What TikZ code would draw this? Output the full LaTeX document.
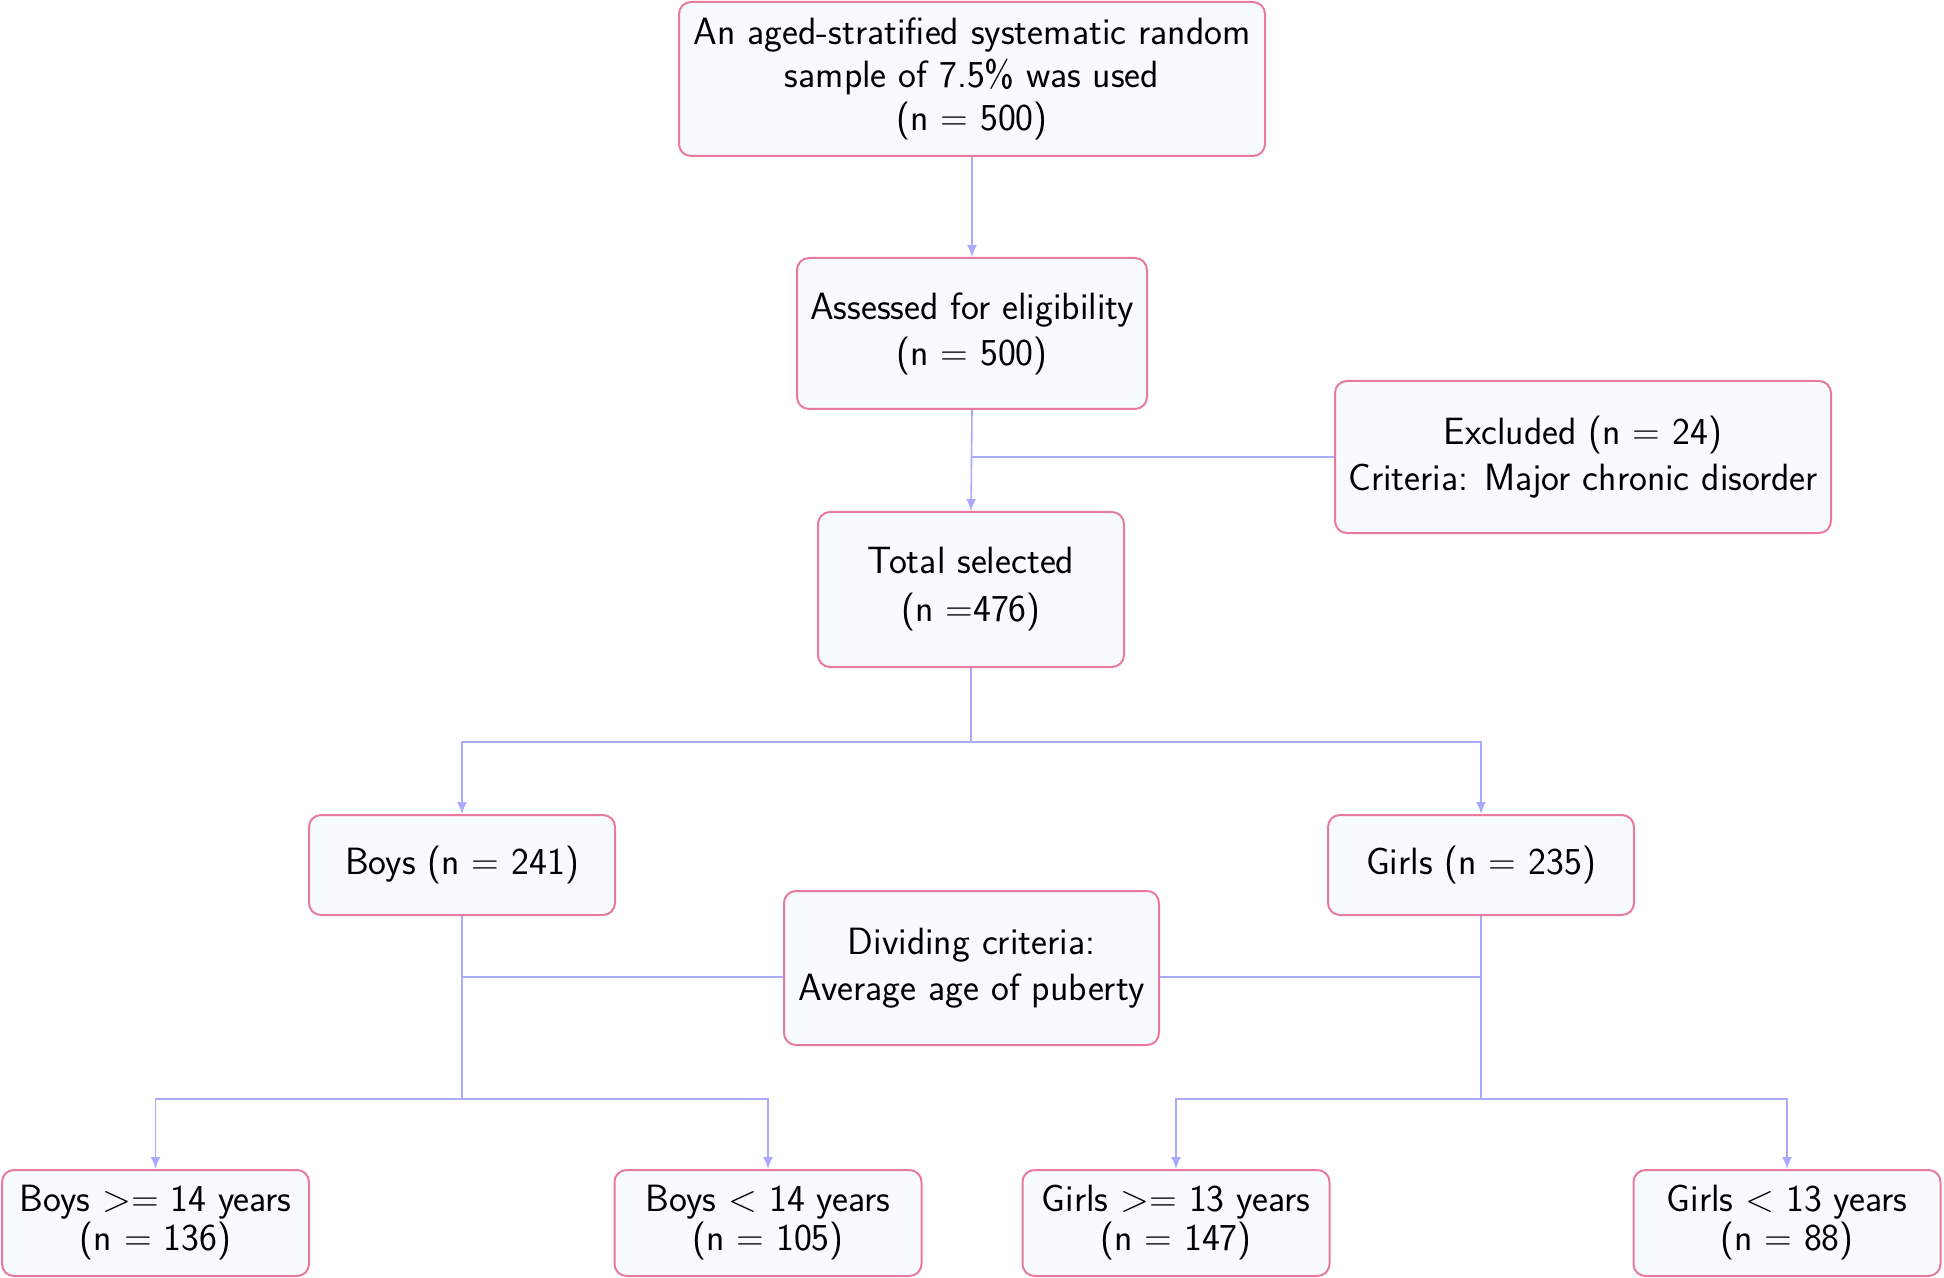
\documentclass[tikz,border=0pt]{standalone}
\usepackage{fontspec}
\usetikzlibrary{arrows.meta,calc}
\definecolor{boxline}{RGB}{232,122,160}
\definecolor{boxfill}{RGB}{248,251,254}
\definecolor{conn}{RGB}{170,170,255}
\tikzset{
  flowbox/.style={draw=boxline,fill=boxfill,line width=1pt,rounded corners=6pt,
    align=center,inner sep=0pt,font=\sffamily\fontsize{19}{23}\selectfont},
  tightbox/.style={flowbox,font=\sffamily\fontsize{19}{19.5}\selectfont},
  link/.style={draw=conn,line width=0.8pt},
  arr/.style={link,-{Latex[length=6pt,width=5pt]}}
}
\begin{document}
\begin{tikzpicture}[x=0.5pt,y=-0.5pt]
\useasboundingbox (0,0) rectangle (1944,1278);
\node[flowbox,font=\sffamily\fontsize{19}{21.5}\selectfont,minimum width=293pt,minimum height=77pt] (top) at (972,79)
  {An aged-stratified systematic random\\sample of 7.5\% was used\\(n = 500)};
\node[flowbox,minimum width=175pt,minimum height=75.5pt] (assess) at (972,333.5)
  {Assessed for eligibility\\(n = 500)};
\node[flowbox,minimum width=248pt,minimum height=76pt] (excl) at (1583,457)
  {Excluded (n = 24)\\Criteria: Major chronic disorder};
\node[flowbox,font=\sffamily\fontsize{19}{24}\selectfont,minimum width=153pt,minimum height=77.5pt] (total) at (971,589.5)
  {Total selected\\(n =476)};
\node[flowbox,minimum width=153pt,minimum height=50pt] (boys) at (462,865)
  {Boys (n = 241)};
\node[flowbox,minimum width=153pt,minimum height=50pt] (girls) at (1481,865)
  {Girls (n = 235)};
\node[flowbox,minimum width=187.5pt,minimum height=77pt] (divide) at (971.5,968)
  {Dividing criteria:\\Average age of puberty};
\node[tightbox,minimum width=153.5pt,minimum height=53pt] (b1) at (155.5,1223)
  {Boys >= 14 years\\(n = 136)};
\node[tightbox,minimum width=153.5pt,minimum height=53pt] (b2) at (768,1223)
  {Boys < 14 years\\(n = 105)};
\node[tightbox,minimum width=153.5pt,minimum height=53pt] (g1) at (1176,1223)
  {Girls >= 13 years\\(n = 147)};
\node[tightbox,minimum width=153.5pt,minimum height=53pt] (g2) at (1787,1223)
  {Girls < 13 years\\(n = 88)};
% top to assessed
\draw[arr] (top.south) -- (assess.north);
% assessed to total with excluded branch
\draw[arr] (assess.south) -- (total.north);
\draw[link] (excl.west) -- (excl.west -| assess.south);
% total split
\coordinate (tsplit) at ($(total.south)+(0,74)$);
\draw[link] (total.south) -- (tsplit);
\draw[arr] (tsplit) -| (boys.north);
\draw[arr] (tsplit) -| (girls.north);
% boys split
\coordinate (bsplit) at ($(boys.south)+(0,183)$);
\draw[link] (boys.south) -- (bsplit);
\draw[arr] (bsplit) -| (b1.north);
\draw[arr] (bsplit) -| (b2.north);
% girls split
\coordinate (gsplit) at ($(girls.south)+(0,183)$);
\draw[link] (girls.south) -- (gsplit);
\draw[arr] (gsplit) -| (g1.north);
\draw[arr] (gsplit) -| (g2.north);
% dividing criteria links
\coordinate (dl) at ($(divide.west)+(0,9)$);
\coordinate (dr) at ($(divide.east)+(0,9)$);
\draw[link] (dl) -- (dl -| boys.south);
\draw[link] (dr) -- (dr -| girls.south);
\end{tikzpicture}
\end{document}
